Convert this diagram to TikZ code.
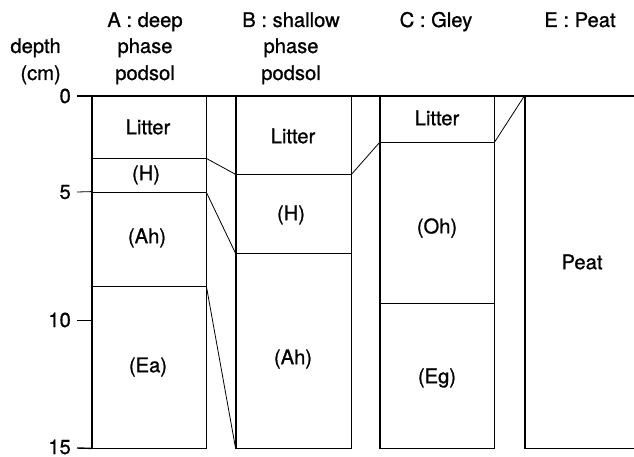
\documentclass[tikz,border=0pt]{standalone}
\usepackage{fontspec}
\setmainfont{TeX Gyre Heros}[FakeBold=0.8]
\newfontfamily\heavy{TeX Gyre Heros}[FakeBold=0.9]
\begin{document}
\begin{tikzpicture}[x=1pt,y=-1pt,
  font=\heavy\fontsize{20.2}{24}\selectfont,
  layer/.style={draw, line width=0.8pt, inner sep=0pt, minimum width=#1},
  outer/.style={line width=1.4pt},
  conn/.style={line width=0.8pt},
  lbl/.style={inner sep=0pt},
  hdr/.style={inner sep=0pt, anchor=base}]
\useasboundingbox (0,0) rectangle (634,457);
% column A
\node[layer=114pt, minimum height=62pt] (Alit) at (149,127) {};
\node[layer=114pt, minimum height=34pt] (AH) at (149,175) {};
\node[layer=114pt, minimum height=94pt] (AAh) at (149,239) {};
\node[layer=114pt, minimum height=162pt] (AEa) at (149,367) {};
% column B
\node[layer=115pt, minimum height=78pt] (Blit) at (293.5,135) {};
\node[layer=115pt, minimum height=79pt] (BH) at (293.5,213.5) {};
\node[layer=115pt, minimum height=195pt] (BAh) at (293.5,350.5) {};
% column C
\node[layer=114pt, minimum height=46pt] (Clit) at (437,119) {};
\node[layer=114pt, minimum height=161pt] (COh) at (437,222.5) {};
\node[layer=114pt, minimum height=145pt] (CEg) at (437,375.5) {};
% column E
\node[layer=120pt, minimum height=352pt] (EPeat) at (585,272) {};
% outer frames
\draw[outer] (Alit.north west) rectangle (AEa.south east);
\draw[outer] (Blit.north west) rectangle (BAh.south east);
\draw[outer] (Clit.north west) rectangle (CEg.south east);
\draw[outer] (EPeat.north west) rectangle (EPeat.south east);
% top line and axis
\coordinate (tk0) at (77,96);
\coordinate (topend) at (634,96);
\coordinate (tk5) at (77,192);
\coordinate (tk10) at (77,320);
\coordinate (tk10e) at (92,320);
\coordinate (tk15) at (77,448);
\draw[outer] (tk0) -- (topend);
\draw[conn] (tk5) -- (AAh.north west);
\draw[conn] (tk10) -- (tk10e);
\draw[outer] (tk15) -- (AEa.south west);
\node[lbl, anchor=east] (n0) at (71,96) {0};
\node[lbl, anchor=east] (n5) at (71,192) {5};
\node[lbl, anchor=east] (n10) at (71,320) {10};
\node[lbl, anchor=east] (n15) at (71,447) {15};
% connectors
\draw[conn] (Alit.south east) -- (Blit.south west);
\draw[conn] (AH.south east) -- (BH.south west);
\draw[conn] (AAh.south east) -- (BAh.south west);
\draw[conn] (Blit.south east) -- (Clit.south west);
\draw[conn] (Clit.south east) -- (EPeat.north west);
% layer labels
\node[lbl] (tAlit) at (148,127) {Litter};
\node[lbl] (tAH) at (146,175) {(H)};
\node[lbl] (tAAh) at (147,238) {(Ah)};
\node[lbl] (tAEa) at (148,367) {(Ea)};
\node[lbl] (tBlit) at (293,136) {Litter};
\node[lbl] (tBH) at (291,215) {(H)};
\node[lbl] (tBAh) at (293,359) {(Ah)};
\node[lbl] (tClit) at (437,118) {Litter};
\node[lbl] (tCOh) at (437,228) {(Oh)};
\node[lbl] (tCEg) at (437,378) {(Eg)};
\node[lbl] (tPeat) at (582,262) {Peat};
% headers
\node[hdr, anchor=base east] (hd1) at (61,53) {depth};
\node[hdr, anchor=base east] (hd2) at (61,80) {(cm)};
\node[hdr] (hA1) at (145,27) {A : deep};
\node[hdr] (hA2) at (145,53) {phase};
\node[hdr] (hA3) at (145,80) {podsol};
\node[hdr] (hB1) at (291,27) {B : shallow};
\node[hdr] (hB2) at (291,53) {phase};
\node[hdr] (hB3) at (291,80) {podsol};
\node[hdr] (hC1) at (436,27) {C : Gley};
\node[hdr] (hE1) at (580,27) {E : Peat};
\end{tikzpicture}
\end{document}
